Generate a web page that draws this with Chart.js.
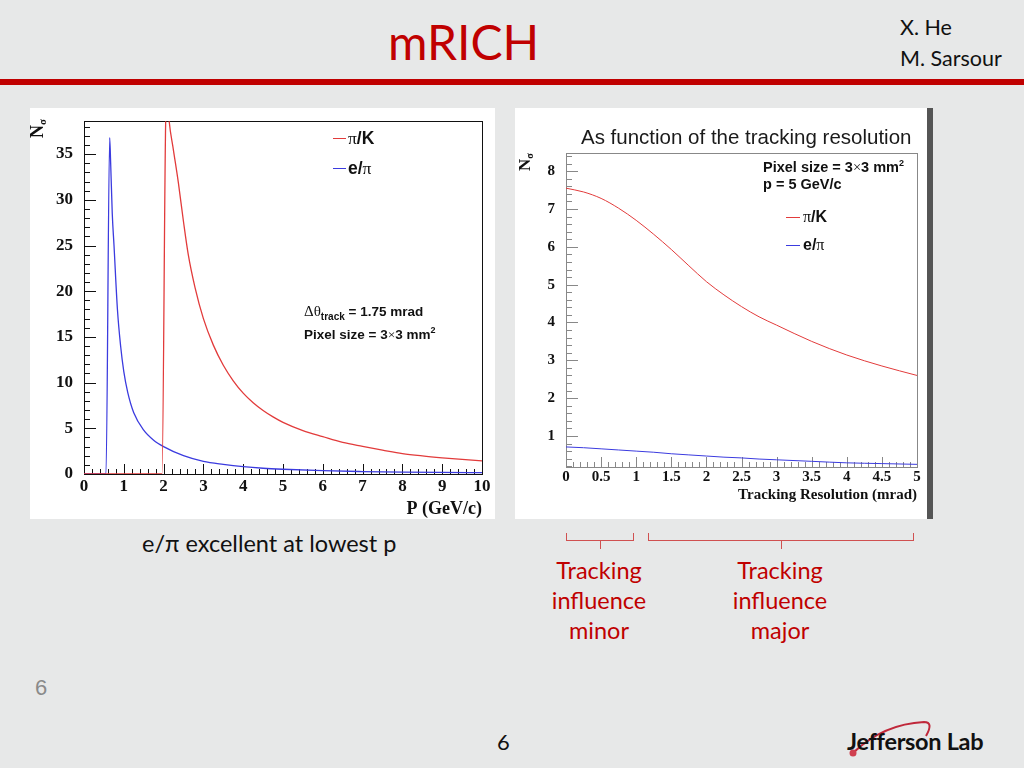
<!DOCTYPE html>
<html>
<head>
<meta charset="utf-8">
<title>mRICH</title>
<script src="https://cdn.jsdelivr.net/npm/chart.js@4.4.1/dist/chart.umd.min.js"></script>
<style>
  html, body { margin: 0; padding: 0; }
  body { width: 1024px; height: 768px; background: #e7e8e8; position: relative; overflow: hidden; font-family: Lato, 'Open Sans', sans-serif; }
  .abs { position: absolute; white-space: nowrap; }
  .panel { position: absolute; background: #fff; }
  .red { color: #c00000; }
  .root { font-family: 'Liberation Sans', Arial, sans-serif; font-weight: bold; color: #111; }
  .sym { font-family: 'Liberation Serif', serif; font-weight: normal; }
  .lg { position: absolute; height: 0; border-top: 1.5px solid; }
  .rot { transform: rotate(-90deg); transform-origin: 0 0; font-family: 'Liberation Serif', serif; font-weight: bold; color: #111; }
  .rot sub { font-size: 0.6em; vertical-align: -0.25em; }
  .brace { position: absolute; border: 1px solid #d05050; border-top: none; height: 7px; }
  .brace i { position: absolute; left: 50%; top: 7px; height: 9px; border-left: 1px solid #d05050; }
</style>
</head>
<body>

<div class="abs red" style="left:388px;top:13px;font-size:48px;line-height:58px;">mRICH</div>
<div class="abs" style="left:900px;top:13px;font-size:21.5px;line-height:28px;color:#111;">X. He</div>
<div class="abs" style="left:900px;top:44px;font-size:21.5px;line-height:28px;color:#111;">M. Sarsour</div>
<div class="abs" style="left:0;top:79px;width:1024px;height:6px;background:#c00000;"></div>

<!-- left: separation vs momentum -->
<div class="panel" style="left:30px;top:108px;width:465px;height:411px;">
  <canvas id="momChart" width="465" height="411"></canvas>
  <div class="abs rot" style="left:-2px;top:30px;font-size:18px;line-height:18px;">N<sub>σ</sub></div>
  <div class="lg" style="left:303px;top:30px;width:13px;border-color:#e23b3b;"></div>
  <div class="abs root" style="left:318px;top:20px;font-size:17.5px;line-height:20px;"><span class="sym">π</span>/K</div>
  <div class="lg" style="left:303px;top:60px;width:13px;border-color:#3b3bdf;"></div>
  <div class="abs root" style="left:318px;top:50px;font-size:17.5px;line-height:20px;">e/<span class="sym">π</span></div>
  <div class="abs root" style="left:274px;top:194px;font-size:13.5px;line-height:18px;"><span class="sym" style="font-size:15px;">Δθ</span><sub style="font-size:10px;">track</sub> = 1.75 mrad</div>
  <div class="abs root" style="left:274px;top:213px;font-size:13.5px;line-height:18px;">Pixel size = 3<span class="sym">×</span>3 mm<sup style="font-size:9px;">2</sup></div>
</div>

<!-- right: separation vs tracking resolution -->
<div class="panel" style="left:515px;top:108px;width:413px;height:411px;">
  <canvas id="resChart" width="413" height="411"></canvas>
  <div class="abs" style="left:66px;top:17px;font-family:'Liberation Sans',Arial,sans-serif;font-size:20.5px;line-height:24px;color:#1a1a1a;">As function of the tracking resolution</div>
  <div class="abs rot" style="left:1px;top:63px;font-size:17px;line-height:17px;">N<sub>σ</sub></div>
  <div class="abs root" style="left:248px;top:46px;font-size:14.5px;line-height:18px;">Pixel size = 3<span class="sym">×</span>3 mm<sup style="font-size:9px;">2</sup></div>
  <div class="abs root" style="left:248px;top:67px;font-size:14.5px;line-height:18px;">p = 5 GeV/c</div>
  <div class="lg" style="left:271px;top:109px;width:14px;border-top-width:1px;border-color:#e23b3b;"></div>
  <div class="abs root" style="left:288px;top:99px;font-size:16px;line-height:20px;"><span class="sym">π</span>/K</div>
  <div class="lg" style="left:271px;top:137px;width:14px;border-top-width:1px;border-color:#3b3bdf;"></div>
  <div class="abs root" style="left:288px;top:127px;font-size:16px;line-height:20px;">e/<span class="sym">π</span></div>
</div>
<div class="abs" style="left:927px;top:108px;width:6px;height:411px;background:#555;"></div>

<div class="abs" style="left:142px;top:527px;font-size:23.5px;line-height:32px;color:#111;">e/π excellent at lowest p</div>

<div class="brace" style="left:566px;top:533px;width:66px;"><i></i></div>
<div class="brace" style="left:648px;top:533px;width:264px;"><i></i></div>
<div class="abs red" style="left:539px;top:555px;width:120px;text-align:center;font-size:23.5px;line-height:30px;color:#c00000;">Tracking<br>influence<br>minor</div>
<div class="abs red" style="left:720px;top:555px;width:120px;text-align:center;font-size:23.5px;line-height:30px;color:#c00000;">Tracking<br>influence<br>major</div>

<div class="abs" style="left:35px;top:675px;font-family:'Liberation Sans',Arial,sans-serif;font-size:22px;line-height:26px;color:#8a8a8a;">6</div>
<div class="abs" style="left:497px;top:728px;font-size:22px;line-height:28px;color:#111;">6</div>

<svg class="abs" style="left:840px;top:712px;" width="160" height="50">
  <path d="M14 40 Q 44 12 84 10 Q 94 10 86 24" fill="none" stroke="#c0283a" stroke-width="2"/>
  <circle cx="13" cy="41" r="3.5" fill="#d04050"/>
</svg>
<div class="abs" style="left:847px;top:726px;font-family:Lato,sans-serif;font-weight:bold;font-size:23.5px;line-height:30px;letter-spacing:-0.3px;color:#111;">Jefferson Lab</div>

<script>
// ---- values ----
// left plot: N_sigma vs momentum P (GeV/c)
const momPiK  = [0, 1.96, 2.06, 2.1, 2.14, 2.245, 2.37, 2.5, 2.62, 2.79, 3, 3.25, 3.5, 3.75, 4, 4.25, 4.5, 4.75, 5, 5.5, 6, 6.5, 7, 7.5, 8, 8.5, 9, 9.5, 10];
const nsigPiK = [0, 0, 40, 41, 38.6, 35.5, 31.9, 27.6, 24.0, 20.4, 17.0, 14.1, 11.9, 10.2, 8.85, 7.8, 6.95, 6.25, 5.65, 4.75, 4.08, 3.45, 3.02, 2.62, 2.24, 1.98, 1.77, 1.59, 1.43];
const momEPi  = [0, 0.553, 0.645, 0.67, 0.71, 0.754, 0.84, 0.92, 1.0, 1.1, 1.25, 1.5, 1.75, 2, 2.5, 3, 3.5, 4, 4.5, 5, 6, 7, 8, 9, 10];
const nsigEPi = [0, 0, 36.8, 34, 28.5, 25, 18, 14, 11.2, 8.9, 6.7, 4.8, 3.7, 3.0, 2.0, 1.38, 1.05, 0.8, 0.63, 0.52, 0.36, 0.27, 0.21, 0.17, 0.14];
const momTicks = [0, 1, 2, 3, 4, 5, 6, 7, 8, 9, 10];
const nsigTicksMom = [0, 5, 10, 15, 20, 25, 30, 35];

// right plot: N_sigma vs tracking resolution (mrad), p = 5 GeV/c
const trackRes   = [0, 0.25, 0.5, 0.75, 1, 1.25, 1.5, 1.75, 2, 2.25, 2.5, 2.75, 3, 3.5, 4, 4.5, 5];
const nsigPiKRes = [7.55, 7.45, 7.28, 7.02, 6.7, 6.33, 5.93, 5.5, 5.08, 4.73, 4.42, 4.15, 3.93, 3.5, 3.14, 2.85, 2.6];
const nsigEPiRes = [0.71, 0.69, 0.66, 0.63, 0.60, 0.57, 0.53, 0.50, 0.47, 0.44, 0.42, 0.39, 0.37, 0.33, 0.29, 0.27, 0.25];
const resTicks = [0, 0.5, 1, 1.5, 2, 2.5, 3, 3.5, 4, 4.5, 5];
const nsigTicksRes = [1, 2, 3, 4, 5, 6, 7, 8];

const RED = '#e23b3b';
const BLUE = '#3b3bdf';

function toXY(xs, ys) {
    return xs.map((x, i) => ({ x, y: ys[i] }));
}

// ROOT-style tick positions (major + minor) between scale min and max
function tickMarks(scale, minor, major) {
    const out = [];
    const per = Math.round(major / minor);
    const n0 = Math.ceil(scale.min / minor - 1e-6);
    const n1 = Math.floor(scale.max / minor + 1e-6);
    for (let i = n0; i <= n1; i++) out.push([i * minor, i % per === 0]);
    return out;
}

// frame box + inward ticks like a ROOT canvas
const rootFrame = {
    id: 'rootFrame',
    beforeDatasetsDraw(chart, args, o) {
        const { ctx, chartArea: a, scales: { x, y } } = chart;
        ctx.save();
        ctx.strokeStyle = o.color;
        ctx.lineWidth = 1;
        ctx.strokeRect(Math.round(a.left) + 0.5, Math.round(a.top) + 0.5,
            Math.round(a.right - a.left), Math.round(a.bottom - a.top));
        ctx.beginPath();
        tickMarks(x, o.xMinor, o.xMajor).forEach(([v, major]) => {
            const px = Math.round(x.getPixelForValue(v)) + 0.5;
            ctx.moveTo(px, a.bottom);
            ctx.lineTo(px, a.bottom - (major ? o.xLen[0] : o.xLen[1]));
        });
        tickMarks(y, o.yMinor, o.yMajor).forEach(([v, major]) => {
            const py = Math.round(y.getPixelForValue(v)) + 0.5;
            ctx.moveTo(a.left, py);
            ctx.lineTo(a.left + (major ? o.yLen[0] : o.yLen[1]), py);
        });
        ctx.stroke();
        ctx.restore();
    }
};

function nsigChart(id, o) {
    const tickFont = { family: "'Liberation Serif', serif", weight: 'bold', size: o.tickSize };
    return new Chart(document.getElementById(id), {
        type: 'scatter',
        data: {
            datasets: o.series.map(s => ({
                data: toXY(s.x, s.y),
                borderColor: s.color,
                borderWidth: o.lineWidth,
                showLine: true,
                pointRadius: 0,
                cubicInterpolationMode: 'monotone'
            }))
        },
        options: {
            responsive: false,
            animation: false,
            layout: { padding: o.pad },
            plugins: {
                legend: { display: false },
                tooltip: { enabled: false },
                rootFrame: o.frame
            },
            scales: {
                x: {
                    type: 'linear',
                    min: o.xRange[0],
                    max: o.xRange[1],
                    grid: { display: false },
                    border: { display: false },
                    afterBuildTicks: s => { s.ticks = o.xTicks.map(v => ({ value: v })); },
                    afterFit: s => { s.height = o.xHeight; },
                    ticks: { font: tickFont, color: '#111', padding: o.xPad, autoSkip: false, maxRotation: 0, callback: v => String(v) },
                    title: {
                        display: true, text: o.xTitle, align: 'end', color: '#111',
                        font: { family: "'Liberation Serif', serif", weight: 'bold', size: o.titleSize },
                        padding: { top: 0, bottom: o.titlePad }
                    }
                },
                y: {
                    type: 'linear',
                    min: o.yRange[0],
                    max: o.yRange[1],
                    grid: { display: false },
                    border: { display: false },
                    afterBuildTicks: s => { s.ticks = o.yTicks.map(v => ({ value: v })); },
                    afterFit: s => { s.width = o.yWidth; },
                    ticks: { font: tickFont, color: '#111', padding: 3, callback: v => String(v) }
                }
            }
        },
        plugins: [rootFrame]
    });
}

nsigChart('momChart', {
    series: [
        { x: momPiK, y: nsigPiK, color: RED },
        { x: momEPi, y: nsigEPi, color: BLUE }
    ],
    lineWidth: 1.3,
    xRange: [0, 10], yRange: [0, 38.6],
    xTicks: momTicks, yTicks: nsigTicksMom,
    xTitle: 'P (GeV/c)',
    tickSize: 17, titleSize: 18, titlePad: -1.5,
    pad: { top: 9, right: 13, left: 0, bottom: 0 },
    yWidth: 54, xHeight: 45, xPad: -6,
    frame: { color: '#111', xMinor: 0.2, xMajor: 1, yMinor: 1, yMajor: 5, xLen: [10, 5], yLen: [12, 6] }
});

nsigChart('resChart', {
    series: [
        { x: trackRes, y: nsigPiKRes, color: RED },
        { x: trackRes, y: nsigEPiRes, color: BLUE }
    ],
    lineWidth: 1,
    xRange: [0, 5], yRange: [0.18, 8.48],
    xTicks: resTicks, yTicks: nsigTicksRes,
    xTitle: 'Tracking Resolution (mrad)',
    tickSize: 15, titleSize: 15, titlePad: 14.5,
    pad: { top: 45, right: 11, left: 0, bottom: 0 },
    yWidth: 51, xHeight: 52, xPad: -7,
    frame: { color: '#888', xMinor: 0.1, xMajor: 0.5, yMinor: 0.2, yMajor: 1, xLen: [10, 5], yLen: [12, 6] }
});
</script>
</body>
</html>
